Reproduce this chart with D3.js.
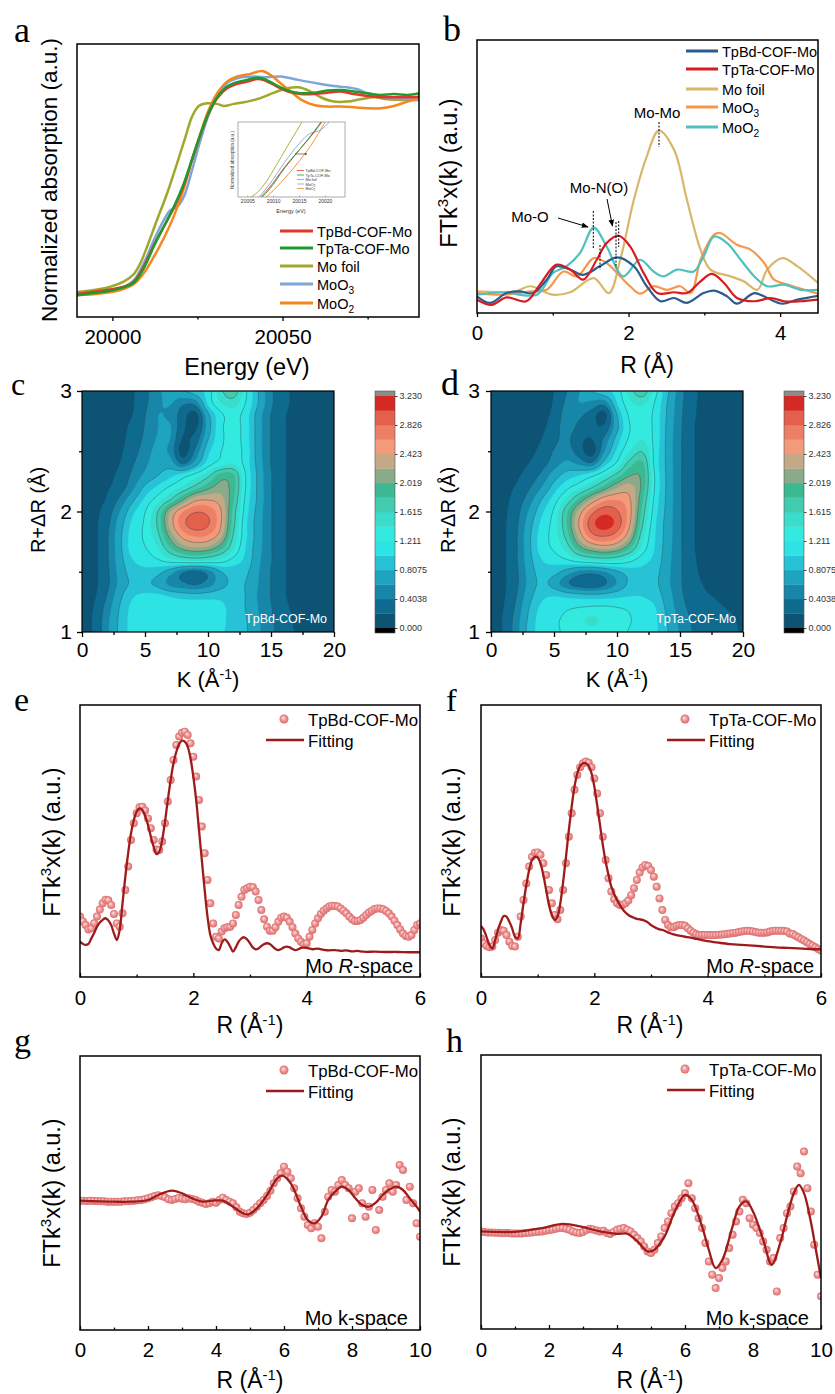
<!DOCTYPE html>
<html><head><meta charset="utf-8">
<script src="https://d3js.org/d3.v7.min.js"></script>
<style>body{margin:0;background:#fff;}svg{display:block;}</style>
</head><body>
<svg id="fig" width="835" height="1394"></svg>
<script>
// ======================= DATA =======================
// ---- panel a : XANES (Energy eV, normalized absorption)
const aTpBd = [[19989.6,-0.005],[19994.5,0.007],[19999.4,0.019],[20003.3,0.033],[20006.3,0.06],[20009.2,0.139],[20012.2,0.253],[20015.1,0.349],[20018.0,0.446],[20021.0,0.568],[20023.4,0.7],[20025.9,0.832],[20028.3,0.946],[20030.8,1.025],[20033.7,1.077],[20036.7,1.1],[20039.6,1.112],[20042.5,1.126],[20044.5,1.121],[20046.5,1.104],[20049.4,1.077],[20052.4,1.056],[20055.3,1.047],[20059.2,1.047],[20063.1,1.054],[20067.1,1.06],[20071.0,1.047],[20074.9,1.037],[20078.8,1.03],[20082.7,1.03],[20086.7,1.03],[20090.1,1.033]];
const aTpTa = [[19989.6,-0.012],[19994.5,0.0],[19999.4,0.012],[20003.3,0.03],[20006.3,0.054],[20009.2,0.13],[20012.2,0.247],[20015.1,0.349],[20018.0,0.451],[20021.0,0.577],[20023.4,0.704],[20025.9,0.837],[20028.3,0.949],[20030.8,1.03],[20033.7,1.086],[20036.7,1.109],[20039.6,1.121],[20042.5,1.133],[20044.5,1.126],[20046.5,1.109],[20049.4,1.082],[20052.4,1.06],[20055.3,1.051],[20059.2,1.054],[20063.1,1.065],[20067.1,1.068],[20071.0,1.06],[20074.9,1.051],[20078.8,1.042],[20082.7,1.047],[20086.7,1.042],[20090.1,1.051]];
const aMoFoil = [[19989.6,0.005],[19994.5,0.016],[19999.4,0.033],[20003.3,0.06],[20006.3,0.10],[20008.2,0.156],[20010.2,0.244],[20013.1,0.384],[20016.1,0.525],[20019.0,0.682],[20021.5,0.823],[20023.4,0.928],[20025.4,0.984],[20027.8,0.998],[20030.8,0.995],[20032.7,0.984],[20035.7,0.995],[20039.6,1.007],[20043.5,1.025],[20047.5,1.054],[20051.4,1.077],[20054.8,1.082],[20058.2,1.06],[20061.2,1.03],[20065.1,1.007],[20069.0,1.007],[20072.9,1.019],[20076.9,1.03],[20080.8,1.019],[20084.7,1.016],[20090.1,1.016]];
const aMoO3 = [[19989.6,-0.002],[19996.5,0.002],[20002.4,0.023],[20006.3,0.068],[20009.2,0.156],[20012.2,0.279],[20015.1,0.384],[20017.1,0.437],[20019.0,0.454],[20021.0,0.507],[20023.4,0.647],[20025.9,0.805],[20028.3,0.937],[20030.8,1.033],[20033.7,1.104],[20036.7,1.13],[20041.6,1.139],[20045.5,1.135],[20049.4,1.139],[20053.3,1.126],[20057.3,1.112],[20061.2,1.1],[20065.1,1.089],[20069.0,1.082],[20072.0,1.072],[20074.9,1.051],[20078.8,1.033],[20082.7,1.025],[20086.7,1.019],[20090.1,1.016]];
const aMoO2 = [[19989.6,-0.011],[19996.5,-0.002],[20002.4,0.016],[20006.3,0.047],[20009.2,0.104],[20012.2,0.191],[20015.1,0.288],[20018.0,0.402],[20021.0,0.551],[20023.4,0.7],[20025.9,0.84],[20028.3,0.963],[20030.8,1.051],[20033.7,1.112],[20036.7,1.139],[20040.6,1.153],[20044.0,1.168],[20046.5,1.147],[20049.4,1.104],[20052.4,1.06],[20055.3,1.019],[20059.2,0.989],[20063.1,0.981],[20067.1,0.981],[20071.0,0.977],[20074.9,0.972],[20078.8,0.972],[20082.7,0.984],[20086.7,1.007],[20090.1,1.025]];
const aNames = ["TpBd-COF-Mo","TpTa-COF-Mo","Mo foil","MoO_3","MoO_2"];
const aColors = ["#E8352C","#1E9B2F","#A0A82C","#7EA6D9","#F5871F"];
const aTicks = [20000,20050], aMinor = [20025,20075];
const insetTicks = [20005,20010,20015,20020];

// ---- panel b : FT-EXAFS R space
const bTpBd = [[0,0.61],[0.17,0.37],[0.39,0.73],[0.56,0.79],[0.74,0.73],[0.92,1.22],[1.05,1.71],[1.23,1.59],[1.4,1.4],[1.62,1.71],[1.85,2.04],[2.07,1.71],[2.24,0.98],[2.42,0.43],[2.6,0.55],[2.77,0.37],[2.99,0.73],[3.13,0.82],[3.3,0.61],[3.43,0.34],[3.66,0.73],[3.83,0.55],[4.03,0.34],[4.23,0.49],[4.5,0.63]];
const bTpTa = [[0,0.49],[0.19,0.3],[0.39,0.57],[0.65,0.43],[0.83,1.04],[1.05,1.77],[1.23,1.59],[1.4,1.22],[1.58,1.95],[1.71,2.56],[1.87,2.83],[2.02,2.44],[2.2,1.46],[2.38,0.73],[2.6,0.76],[2.77,0.73],[2.95,1.16],[3.1,1.43],[3.26,1.1],[3.43,0.55],[3.66,0.43],[3.88,0.55],[4.05,0.43],[4.27,0.43],[4.5,0.49]];
const bMoFoil = [[0,0.79],[0.5,0.79],[0.7,0.98],[1.0,0.67],[1.23,0.76],[1.54,1.28],[1.74,0.73],[1.89,1.95],[2.07,4.15],[2.24,5.73],[2.4,6.68],[2.6,5.98],[2.77,4.15],[2.95,2.32],[3.08,1.59],[3.35,1.34],[3.52,1.16],[3.7,0.85],[3.83,1.59],[4.03,2.01],[4.23,1.71],[4.5,1.1]];
const bMoO3 = [[0,0.73],[0.34,0.67],[0.7,0.79],[0.92,0.85],[1.14,1.52],[1.32,1.34],[1.54,2.01],[1.71,1.83],[1.89,1.34],[2.02,0.98],[2.15,0.71],[2.33,0.98],[2.51,0.85],[2.68,0.98],[2.82,0.73],[2.95,1.95],[3.13,2.87],[3.21,2.93],[3.43,2.5],[3.61,2.32],[3.79,1.83],[3.92,1.22],[4.1,1.04],[4.32,0.85],[4.5,0.71]];
const bMoO2 = [[0,0.67],[0.34,0.76],[0.79,0.67],[1.0,1.46],[1.18,1.71],[1.36,2.2],[1.54,3.13],[1.71,2.44],[1.93,1.34],[2.15,1.95],[2.33,1.52],[2.46,1.34],[2.64,1.59],[2.86,1.52],[2.99,2.07],[3.13,2.8],[3.3,2.56],[3.48,1.95],[3.66,1.34],[3.83,0.98],[4.05,1.04],[4.27,0.85],[4.5,0.85]];
const bNames = ["TpBd-COF-Mo","TpTa-COF-Mo","Mo foil","MoO_3","MoO_2"];
const bColors = ["#2B5D8C","#D81B20","#D8B76A","#F5984A","#4EC0BE"];
const bTicks = [0,2,4], bMinor = [1,3];

// ---- panels c, d : wavelet transform maps (rows R = 3.0 ... 1.0, columns k = 0 ... 20)
const mapK = [0,1,2,3,4,5,6,7,8,9,10,11,12,13,14,15,16,17,18,19,20];
const mapR = [3.0,2.9,2.8,2.7,2.6,2.5,2.4,2.3,2.2,2.1,2.0,1.9,1.8,1.7,1.6,1.5,1.4,1.3,1.2,1.1,1.0];
const cMap = [
[.12,.12,.12,.13,.18,.35,.55,.7,.8,.9,1.1,1.55,1.75,1.25,.8,.45,.25,.17,.16,.16,.16],
[.12,.12,.12,.13,.18,.36,.56,.62,.45,.5,1.05,1.4,1.5,1.2,.8,.45,.25,.17,.16,.16,.16],
[.12,.12,.12,.13,.2,.4,.6,.55,.3,.12,.75,1.15,1.3,1.1,.7,.4,.22,.17,.16,.16,.16],
[.12,.12,.12,.14,.25,.42,.6,.62,.25,.15,.7,1.15,1.3,1.1,.7,.4,.22,.17,.16,.16,.16],
[.12,.12,.12,.15,.28,.45,.62,.6,.18,.3,.8,1.15,1.3,1.1,.7,.4,.22,.17,.16,.16,.16],
[.12,.12,.13,.17,.32,.5,.66,.55,.1,.45,.95,1.2,1.32,1.12,.7,.4,.22,.17,.16,.16,.16],
[.12,.12,.14,.2,.38,.56,.72,.7,.38,.7,1.1,1.3,1.4,1.12,.72,.4,.22,.17,.16,.16,.16],
[.12,.12,.15,.25,.45,.65,.8,.95,1.1,1.3,1.55,1.9,1.85,1.2,.75,.42,.22,.17,.16,.16,.16],
[.12,.13,.18,.3,.55,.85,1.05,1.25,1.45,1.7,1.95,2.1,1.9,1.2,.75,.42,.22,.17,.16,.16,.16],
[.12,.14,.22,.45,.75,1.05,1.3,1.6,2.0,2.35,2.4,2.3,1.85,1.15,.75,.42,.22,.17,.16,.16,.16],
[.12,.15,.3,.6,.95,1.2,1.6,2.2,2.6,2.8,2.75,2.45,1.75,1.1,.72,.42,.22,.17,.16,.16,.16],
[.12,.16,.35,.7,1.05,1.25,1.65,2.3,2.75,2.95,2.85,2.45,1.7,1.05,.7,.42,.22,.17,.16,.16,.16],
[.12,.16,.38,.75,1.1,1.25,1.55,2.1,2.5,2.65,2.6,2.3,1.6,1.05,.7,.42,.22,.17,.16,.16,.16],
[.12,.16,.38,.75,1.1,1.2,1.4,1.8,2.1,2.2,2.15,1.9,1.45,1.0,.68,.42,.22,.17,.16,.16,.16],
[.12,.16,.38,.72,1.0,1.1,1.2,1.35,1.45,1.5,1.45,1.35,1.15,.95,.65,.42,.22,.17,.16,.16,.16],
[.12,.16,.36,.68,.9,.95,.88,.7,.45,.35,.5,.8,.9,.85,.62,.4,.22,.17,.16,.16,.16],
[.12,.16,.36,.66,.85,.85,.75,.55,.45,.38,.5,.72,.85,.8,.6,.4,.22,.17,.16,.16,.16],
[.12,.18,.42,.75,.98,1.05,1.05,.98,.92,.9,.92,.95,.9,.8,.58,.4,.22,.17,.16,.16,.16],
[.12,.22,.5,.82,1.06,1.12,1.15,1.15,1.15,1.15,1.12,1.06,.92,.8,.6,.42,.24,.18,.16,.16,.16],
[.12,.24,.55,.85,1.08,1.15,1.18,1.18,1.18,1.17,1.13,1.06,.93,.82,.62,.44,.26,.18,.16,.16,.16],
[.12,.24,.56,.86,1.08,1.15,1.18,1.18,1.18,1.17,1.12,1.04,.93,.83,.64,.46,.28,.19,.16,.16,.16]];
const dMap = [
[.12,.12,.12,.12,.14,.2,.4,.6,.8,.95,1.1,1.5,1.75,1.3,.85,.5,.25,.17,.16,.16,.16],
[.12,.12,.12,.12,.14,.22,.45,.6,.55,.5,1.0,1.35,1.45,1.2,.8,.48,.24,.17,.16,.16,.16],
[.12,.12,.12,.12,.15,.25,.5,.45,.3,.12,.8,1.25,1.35,1.15,.78,.46,.23,.17,.16,.16,.16],
[.12,.12,.12,.13,.16,.3,.5,.35,.25,.25,.75,1.2,1.35,1.15,.76,.45,.22,.17,.16,.16,.16],
[.12,.12,.12,.14,.2,.35,.45,.25,.2,.45,.9,1.25,1.4,1.15,.75,.44,.22,.17,.16,.16,.16],
[.12,.12,.13,.16,.25,.42,.5,.3,.1,.6,1.05,1.4,1.6,1.15,.75,.44,.22,.17,.16,.16,.16],
[.12,.12,.14,.2,.32,.5,.65,.55,.45,.9,1.25,1.7,1.85,1.15,.75,.44,.22,.17,.16,.16,.16],
[.12,.13,.17,.28,.45,.7,.9,1.0,1.15,1.4,1.7,2.0,1.95,1.2,.76,.44,.22,.17,.16,.16,.16],
[.12,.14,.22,.38,.6,.9,1.15,1.35,1.6,1.9,2.2,2.3,1.95,1.2,.76,.44,.22,.17,.16,.16,.16],
[.12,.15,.28,.5,.8,1.1,1.45,1.85,2.25,2.55,2.6,2.45,1.85,1.15,.75,.44,.22,.17,.16,.16,.16],
[.12,.16,.33,.62,.95,1.25,1.75,2.3,2.75,2.95,2.85,2.5,1.75,1.1,.74,.44,.22,.17,.16,.16,.16],
[.12,.17,.36,.7,1.05,1.3,1.8,2.45,2.95,3.12,2.95,2.45,1.65,1.05,.72,.44,.22,.17,.16,.16,.16],
[.12,.17,.38,.75,1.1,1.3,1.7,2.3,2.75,2.85,2.7,2.25,1.5,1.02,.72,.44,.22,.17,.16,.16,.16],
[.12,.17,.38,.75,1.1,1.25,1.5,1.95,2.2,2.3,2.2,1.85,1.35,1.0,.7,.44,.22,.17,.16,.16,.16],
[.12,.17,.38,.72,1.0,1.1,1.2,1.35,1.45,1.5,1.45,1.3,1.1,.95,.68,.44,.23,.17,.16,.16,.16],
[.12,.17,.36,.68,.9,.88,.72,.55,.5,.6,.78,.9,.95,.88,.66,.44,.24,.18,.16,.16,.16],
[.12,.17,.36,.66,.85,.72,.45,.3,.25,.38,.62,.85,.92,.86,.65,.44,.26,.19,.17,.16,.16],
[.12,.18,.4,.72,.95,1.0,.95,.9,.88,.9,.95,1.0,1.0,.92,.7,.46,.3,.22,.19,.17,.16],
[.12,.2,.45,.8,1.05,1.12,1.18,1.22,1.25,1.25,1.22,1.18,1.12,1.02,.75,.5,.34,.26,.22,.19,.17],
[.12,.22,.5,.85,1.1,1.18,1.25,1.35,1.45,1.35,1.28,1.22,1.15,1.05,.8,.55,.38,.3,.25,.22,.18],
[.12,.22,.52,.88,1.1,1.18,1.24,1.3,1.35,1.32,1.27,1.2,1.14,1.05,.82,.58,.4,.32,.27,.23,.19]];
const mapLevels = [0,0.2019,0.4038,0.6056,0.8075,1.0094,1.211,1.413,1.615,1.817,2.019,2.221,2.423,2.624,2.826,3.028,3.230];
const mapColors = ['#0c5374','#0f6a90','#1786a8','#1fa4c0','#27c2d6','#2ee3e3','#33eadf','#3adccb','#42cbae','#3cb893','#8aab89','#c4a987','#f29a79','#ec7f65','#e3604d','#d42a23','#8c8c8c'];
const cbLabels = ["3.230","2.826","2.423","2.019","1.615","1.211","0.8075","0.4038","0.000"];
const cbValues = [3.230,2.826,2.423,2.019,1.615,1.211,0.8075,0.4038,0.0];
const mapXTicks = [0,5,10,15,20], mapXMinor = [2.5,7.5,12.5,17.5];
const mapYTicks = [1,2,3], mapYMinor = [1.5,2.5];

// ---- panels e, f : R-space fits (data points at R = 0, 0.05, ... 6)
const rStep = 0.05;
const eData = [2.22,2.05,1.91,1.75,1.79,1.98,2.22,2.48,2.71,2.84,2.82,2.65,2.32,1.97,1.85,2.34,3.2,4.06,5.04,5.65,6.02,6.24,6.26,6.12,5.83,5.47,5.04,4.69,4.67,4.98,5.65,6.45,7.24,7.98,8.53,8.84,8.98,9.02,8.9,8.59,8.1,7.37,6.51,5.53,4.55,3.57,2.71,1.97,1.48,1.42,1.67,1.79,1.83,1.85,1.97,2.28,2.65,2.95,3.2,3.26,3.32,3.3,3.14,2.83,2.46,2.12,1.85,1.7,1.7,1.83,2.03,2.18,2.22,2.18,2.03,1.83,1.6,1.42,1.3,1.21,1.24,1.48,1.73,1.97,2.16,2.32,2.44,2.52,2.59,2.62,2.61,2.59,2.52,2.44,2.34,2.22,2.12,2.06,2.06,2.1,2.18,2.28,2.37,2.44,2.5,2.52,2.52,2.49,2.43,2.34,2.22,2.07,1.91,1.75,1.6,1.51,1.48,1.54,1.73,1.91,1.97];
const eFit = [[0,1.3],[0.05,1.22],[0.1,1.18],[0.15,1.22],[0.2,1.42],[0.25,1.62],[0.3,1.85],[0.35,2.0],[0.4,2.1],[0.45,2.16],[0.5,2.08],[0.55,1.91],[0.6,1.6],[0.65,1.36],[0.7,1.73],[0.75,2.71],[0.8,3.69],[0.85,4.55],[0.9,5.28],[0.95,5.77],[1.0,6.08],[1.05,6.2],[1.1,6.14],[1.15,5.92],[1.2,5.59],[1.25,5.16],[1.3,4.79],[1.35,4.52],[1.4,4.61],[1.45,5.04],[1.5,5.71],[1.55,6.51],[1.6,7.24],[1.65,7.86],[1.7,8.28],[1.75,8.57],[1.8,8.69],[1.85,8.65],[1.9,8.47],[1.95,8.04],[2.0,7.37],[2.05,6.51],[2.1,5.4],[2.15,4.3],[2.2,3.2],[2.25,2.22],[2.3,1.54],[2.35,1.24],[2.4,1.05],[2.45,0.99],[2.5,1.24],[2.55,1.38],[2.6,1.3],[2.65,1.12],[2.7,0.93],[2.75,1.09],[2.8,1.3],[2.85,1.42],[2.9,1.46],[2.95,1.38],[3.0,1.24],[3.05,1.09],[3.1,1.02],[3.15,1.05],[3.2,1.14],[3.25,1.21],[3.3,1.24],[3.35,1.21],[3.4,1.12],[3.45,1.03],[3.5,0.99],[3.55,1.03],[3.6,1.09],[3.65,1.12],[3.7,1.09],[3.75,1.03],[3.8,0.99],[3.85,1.02],[3.9,1.07],[3.95,1.08],[4.0,1.07],[4.1,1.02],[4.2,1.04],[4.3,1.0],[4.4,0.98],[4.5,0.99],[4.6,0.96],[4.7,0.98],[4.8,0.94],[4.9,0.96],[5.0,0.93],[5.2,0.93],[5.4,0.92],[5.6,0.92],[5.8,0.91],[6.0,0.91]];
const fData = [1.42,1.24,1.14,1.09,1.12,1.36,1.63,1.73,1.7,1.54,1.3,1.14,1.12,1.48,2.22,2.83,3.44,4.06,4.42,4.57,4.58,4.49,4.18,3.75,3.2,2.71,2.28,2.12,2.46,3.2,4.18,5.16,6.02,6.88,7.43,7.71,7.86,7.92,7.88,7.71,7.3,6.75,6.02,5.16,4.3,3.63,3.14,2.86,2.71,2.65,2.65,2.71,2.81,3.01,3.26,3.57,3.84,4.03,4.12,4.08,3.93,3.69,3.32,2.89,2.46,2.1,1.91,1.83,1.83,1.88,1.91,1.91,1.88,1.79,1.7,1.63,1.57,1.54,1.54,1.54,1.54,1.54,1.54,1.54,1.55,1.56,1.57,1.59,1.6,1.62,1.63,1.65,1.67,1.69,1.7,1.69,1.67,1.65,1.63,1.63,1.63,1.64,1.67,1.69,1.7,1.7,1.7,1.69,1.67,1.6,1.58,1.52,1.46,1.4,1.34,1.28,1.21,1.15,1.09,1.03,0.97];
const fFit = [[0,1.88],[0.05,1.73],[0.1,1.46],[0.15,1.18],[0.2,1.05],[0.25,1.36],[0.3,1.73],[0.35,2.03],[0.4,2.24],[0.45,2.22],[0.5,2.03],[0.55,1.79],[0.6,1.48],[0.65,1.42],[0.7,1.97],[0.75,2.71],[0.8,3.38],[0.85,3.93],[0.9,4.3],[0.95,4.42],[1.0,4.39],[1.05,4.18],[1.1,3.75],[1.15,3.2],[1.2,2.65],[1.25,2.28],[1.3,2.1],[1.35,2.22],[1.4,2.71],[1.45,3.5],[1.5,4.42],[1.55,5.4],[1.6,6.26],[1.65,7.0],[1.7,7.49],[1.75,7.76],[1.8,7.86],[1.85,7.86],[1.9,7.76],[1.95,7.49],[2.0,7.0],[2.05,6.32],[2.1,5.59],[2.15,4.85],[2.2,4.24],[2.25,3.75],[2.3,3.32],[2.35,3.05],[2.4,2.83],[2.45,2.65],[2.5,2.49],[2.55,2.37],[2.6,2.28],[2.65,2.22],[2.7,2.18],[2.75,2.14],[2.8,2.12],[2.85,2.1],[2.9,2.06],[2.95,2.0],[3.0,1.91],[3.05,1.85],[3.1,1.79],[3.15,1.75],[3.2,1.73],[3.25,1.69],[3.3,1.64],[3.35,1.6],[3.4,1.57],[3.45,1.54],[3.5,1.52],[3.6,1.48],[3.7,1.45],[3.8,1.4],[3.9,1.36],[4.0,1.32],[4.2,1.26],[4.4,1.21],[4.6,1.18],[4.8,1.15],[5.0,1.12],[5.2,1.09],[5.4,1.07],[5.6,1.05],[5.8,1.03],[6.0,1.02]];
const rTicks = [0,2,4,6], rMinor = [1,3,5];

// ---- panels g, h : k-space fits (data points at k = 0, 0.1, ... 10)
const kStep = 0.1;
const gData = [-0.02,-0.02,-0.03,-0.02,-0.03,-0.03,-0.04,-0.04,-0.05,-0.05,-0.05,-0.05,-0.05,-0.04,-0.04,-0.03,-0.02,-0.01,0.0,0.02,0.05,0.08,0.12,0.14,0.12,0.08,0.02,0.0,0.03,0.06,0.04,0.02,0.05,0.03,0.0,-0.05,-0.08,-0.12,-0.1,-0.05,-0.08,0.0,0.07,0.0,-0.05,-0.1,-0.22,-0.35,-0.4,-0.42,-0.38,-0.3,-0.2,-0.1,0.0,0.12,0.28,0.5,0.65,0.8,1.0,0.85,0.65,0.35,0.05,-0.25,-0.5,-0.75,-0.85,-0.7,-0.8,-1.15,-0.35,0.1,0.3,0.25,0.45,0.6,0.45,0.35,-0.55,0.25,0.35,-0.1,-0.5,-0.2,0.3,-0.9,-0.3,0.1,0.3,0.5,0.25,0.45,1.05,0.9,0.0,0.4,-0.1,-0.7,-1.1];
const gFit = [[0,-0.02],[1,-0.05],[1.5,-0.05],[2,0.0],[2.3,0.15],[2.7,0.28],[3.0,0.2],[3.3,0.05],[3.6,-0.05],[3.9,-0.02],[4.2,-0.02],[4.5,-0.2],[4.8,-0.4],[4.95,-0.43],[5.2,-0.25],[5.5,0.15],[5.8,0.65],[5.95,0.73],[6.2,0.5],[6.5,-0.2],[6.7,-0.6],[6.9,-0.7],[7.1,-0.5],[7.3,0.0],[7.5,0.25],[7.7,0.4],[7.9,0.3],[8.1,0.05],[8.3,-0.15],[8.5,-0.2],[8.7,-0.08],[8.9,0.15],[9.1,0.32],[9.3,0.4],[9.5,0.3],[9.7,0.05],[9.9,-0.2],[10,-0.35]];
const hData = [0.0,-0.02,-0.03,-0.03,-0.04,-0.04,-0.05,-0.05,-0.05,-0.06,-0.06,-0.06,-0.06,-0.05,-0.04,-0.03,-0.02,-0.01,0.0,0.02,0.04,0.06,0.08,0.1,0.1,0.08,0.05,0.0,-0.03,-0.05,-0.02,0.04,0.08,0.06,0.03,0.0,0.02,-0.05,-0.08,-0.02,0.05,0.08,0.1,0.05,0.0,-0.1,-0.2,-0.3,-0.45,-0.6,-0.65,-0.55,-0.35,-0.15,0.1,0.3,0.55,0.75,0.85,1.0,1.15,1.45,1.0,0.7,0.4,0.1,-0.35,-0.9,-1.3,-1.7,-1.4,-1.1,-0.9,-0.5,-0.1,0.3,0.6,0.95,0.85,0.4,0.2,0.1,-0.05,-0.3,-0.55,-0.9,-0.8,-1.8,-0.2,0.1,0.55,0.75,1.2,1.95,1.75,2.4,1.3,0.6,-0.4,-1.3,-1.95];
const hFit = [[0,0],[1,-0.01],[1.8,0.1],[2.4,0.23],[3.0,0.13],[3.5,0.0],[4.0,-0.07],[4.3,-0.07],[4.6,-0.3],[4.9,-0.6],[5.1,-0.55],[5.4,-0.15],[5.7,0.6],[6.0,1.1],[6.2,0.95],[6.5,0.15],[6.7,-0.55],[6.9,-1.1],[7.1,-0.85],[7.4,0.15],[7.6,0.75],[7.8,0.9],[8.0,0.6],[8.3,-0.25],[8.55,-1.0],[8.8,-0.35],[9.0,0.45],[9.2,1.15],[9.35,1.4],[9.5,1.15],[9.7,0.3],[9.85,-0.55],[10,-1.4]];
const kTicks = [0,2,4,6,8,10], kMinor = [1,3,5,7,9];

// ======================= DRAWING =======================
const FONT = "'Liberation Sans', Arial, Helvetica, sans-serif";
const SERIF = "'Liberation Serif', 'Times New Roman', serif";
const svg = d3.select('#fig').attr('font-family', FONT);
const defs = svg.append('defs');
const grad = defs.append('radialGradient').attr('id','ball').attr('cx','0.5').attr('cy','0.5').attr('r','0.5').attr('fx','0.38').attr('fy','0.35');
grad.append('stop').attr('offset','0%').attr('stop-color','#fde6e6');
grad.append('stop').attr('offset','50%').attr('stop-color','#ef9b9b');
grad.append('stop').attr('offset','100%').attr('stop-color','#dc6a6a');
defs.append('marker').attr('id','arrow').attr('viewBox','0 0 10 10').attr('refX',9).attr('refY',5)
  .attr('markerWidth',7).attr('markerHeight',7).attr('orient','auto')
  .append('path').attr('d','M0,1 L10,5 L0,9 z').attr('fill','#000');

function clip(id,x0,y0,x1,y1){ defs.append('clipPath').attr('id',id).append('rect').attr('x',x0).attr('y',y0).attr('width',x1-x0).attr('height',y1-y0); }
function frame(x0,y0,x1,y1,w){ svg.append('rect').attr('x',x0).attr('y',y0).attr('width',x1-x0).attr('height',y1-y0).attr('fill','none').attr('stroke','#000').attr('stroke-width',w||1.5); }
function label(t,x,y,size){ svg.append('text').attr('x',x).attr('y',y).attr('font-family',SERIF).attr('font-size',size||34).text(t); }
function txt(x,y,s,size,anchor){ return svg.append('text').attr('x',x).attr('y',y).attr('font-size',size).attr('text-anchor',anchor||'middle').text(s); }
function axisBottom(xs,y,majors,minors,fmt,fs,baseline,tick){
  const g = svg.append('g').attr('transform',`translate(0,${y})`);
  g.call(d3.axisBottom(xs).tickValues(majors).tickFormat(fmt).tickSizeInner(tick).tickSizeOuter(0)
     .tickPadding(baseline - y - 0.71*fs - Math.max(tick,0)));
  g.select('.domain').remove();
  g.selectAll('text').attr('font-size',fs).attr('font-family',FONT).attr('fill','#000');
  g.selectAll('line').attr('stroke-width',1.3);
  if(minors && minors.length){
    const g2 = svg.append('g').attr('transform',`translate(0,${y})`);
    g2.call(d3.axisBottom(xs).tickValues(minors).tickFormat('').tickSizeInner(tick*0.6).tickSizeOuter(0));
    g2.select('.domain').remove(); g2.selectAll('line').attr('stroke-width',1.3);
  }
}
function axisLeft(ys,x,majors,minors,fs,rightEdge,tick){
  const g = svg.append('g').attr('transform',`translate(${x},0)`);
  g.call(d3.axisLeft(ys).tickValues(majors).tickFormat(d3.format('d')).tickSizeInner(tick).tickSizeOuter(0).tickPadding(x-rightEdge-tick));
  g.select('.domain').remove();
  g.selectAll('text').attr('font-size',fs).attr('font-family',FONT).attr('fill','#000');
  g.selectAll('line').attr('stroke-width',1.3);
  const g2 = svg.append('g').attr('transform',`translate(${x},0)`);
  g2.call(d3.axisLeft(ys).tickValues(minors).tickFormat('').tickSizeInner(tick*0.6).tickSizeOuter(0));
  g2.select('.domain').remove(); g2.selectAll('line').attr('stroke-width',1.3);
}
function rotText(x,y,s,fs){ return svg.append('text').attr('transform',`translate(${x},${y}) rotate(-90)`).attr('text-anchor','middle').attr('font-size',fs).text(s); }
function ftLabel(x,y){
  const t = svg.append('text').attr('transform',`translate(${x},${y}) rotate(-90)`).attr('text-anchor','middle').attr('font-size',23.5);
  t.append('tspan').text('FTk'); t.append('tspan').attr('dy',-9).attr('font-size',15).text('3'); t.append('tspan').attr('dy',9).text('x(k) (a.u.)');
}
function invALabel(x,y,prefix,fs){
  fs = fs || 22;
  const t = svg.append('text').attr('x',x).attr('y',y).attr('text-anchor','middle').attr('font-size',fs);
  t.append('tspan').text(prefix+' (Å'); t.append('tspan').attr('dy',-8).attr('font-size',fs*0.64).text('-1'); t.append('tspan').attr('dy',8).text(')');
}
function subName(t,name,fs){
  const p = name.split('_');
  t.append('tspan').text(p[0]);
  if(p[1]){ t.append('tspan').attr('dy',fs*0.3).attr('font-size',fs*0.7).text(p[1]); }
}

// ---------------- Panel a ----------------
{
  const x0=77,x1=419,y0=44,y1=317;
  const xs = d3.scaleLinear().domain([19989.6,20090.1]).range([x0,x1]);
  const ys = d3.scaleLinear().domain([-0.126,1.31]).range([y1,y0]);
  clip('clipA',x0,y0,x1,y1);
  const line = d3.line().x(d=>xs(d[0])).y(d=>ys(d[1])).curve(d3.curveCatmullRom);
  const series = [aTpBd,aTpTa,aMoFoil,aMoO3,aMoO2];
  const order = [2,3,4,0,1];
  const gA = svg.append('g').attr('clip-path','url(#clipA)');
  order.forEach(i=>gA.append('path').attr('d',line(series[i])).attr('fill','none').attr('stroke',aColors[i]).attr('stroke-width',2.5));
  frame(x0,y0,x1,y1);
  axisBottom(xs,y1,aTicks,aMinor,d3.format('d'),20.5,344,4);
  txt(247,375,'Energy (eV)',23.5);
  rotText(57,180,'Normalized absorption (a.u.)',22.5);
  const ly=[231,248,266,284,303];
  aNames.forEach((n,i)=>{
    svg.append('line').attr('x1',280).attr('x2',313).attr('y1',ly[i]).attr('y2',ly[i]).attr('stroke',aColors[i]).attr('stroke-width',3);
    const t = svg.append('text').attr('x',317).attr('y',ly[i]+5.5).attr('font-size',14.5); subName(t,n,14.5);
  });
  // inset
  const ix0=238,ix1=345,iy0=122,iy1=197;
  const ixs = d3.scaleLinear().domain([20003.2,20023.9]).range([ix0,ix1]);
  const iys = d3.scaleLinear().domain([0.09,0.5]).range([iy1,iy0]);
  clip('clipInset',ix0,iy0,ix1,iy1);
  const iline = d3.line().x(d=>ixs(d[0])).y(d=>iys(d[1])).curve(d3.curveCatmullRom);
  const gI = svg.append('g').attr('clip-path','url(#clipInset)');
  order.forEach(i=>gI.append('path').attr('d',iline(series[i])).attr('fill','none').attr('stroke',aColors[i]).attr('stroke-width',0.9));
  svg.append('rect').attr('x',ix0).attr('y',iy0).attr('width',ix1-ix0).attr('height',iy1-iy0).attr('fill','none').attr('stroke','#888').attr('stroke-width',0.7);
  const gIx = svg.append('g').attr('transform',`translate(0,${iy1})`);
  gIx.call(d3.axisBottom(ixs).tickValues(insetTicks).tickFormat(d3.format('d')).tickSizeInner(-1.5).tickSizeOuter(0).tickPadding(2.5));
  gIx.select('.domain').remove();
  gIx.selectAll('text').attr('font-size',5).attr('fill','#333');
  gIx.selectAll('line').attr('stroke','#666').attr('stroke-width',0.5);
  txt(291,213,'Energy (eV)',5.5).attr('fill','#333');
  rotText(233.5,160,'Normalized absorption (a.u.)',4.6).attr('fill','#333');
  const ily=[170.5,175,179.5,184,188.5];
  aNames.forEach((n,i)=>{
    svg.append('line').attr('x1',297).attr('x2',304).attr('y1',ily[i]).attr('y2',ily[i]).attr('stroke',aColors[i]).attr('stroke-width',0.8);
    const t = svg.append('text').attr('x',305.5).attr('y',ily[i]+1.5).attr('font-size',3.8).attr('fill','#333'); subName(t,n,3.8);
  });
  svg.append('line').attr('x1',295).attr('x2',307).attr('y1',154).attr('y2',154).attr('stroke','#333').attr('stroke-width',0.6);
  svg.append('path').attr('d','M307,154 l-2,-1 l0,2 z').attr('fill','#333');
  label('a',14,42,36);
}

// ---------------- Panel b ----------------
{
  const x0=477,x1=818,y0=40,y1=313;
  const xs = d3.scaleLinear().domain([0,4.5]).range([x0,x1]);
  const ys = d3.scaleLinear().domain([0,10]).range([y1,y0]);
  clip('clipB',x0,y0,x1,y1);
  const line = d3.line().x(d=>xs(d[0])).y(d=>ys(d[1])).curve(d3.curveCatmullRom);
  const series = [bTpBd,bTpTa,bMoFoil,bMoO3,bMoO2];
  const gB = svg.append('g').attr('clip-path','url(#clipB)');
  [2,3,4,0,1].forEach(i=>gB.append('path').attr('d',line(series[i])).attr('fill','none').attr('stroke',bColors[i]).attr('stroke-width',2.2));
  frame(x0,y0,x1,y1);
  axisBottom(xs,y1,bTicks,bMinor,d3.format('d'),20.5,340,4);
  txt(647,373,'R (Å)',23);
  ftLabel(457,173);
  const ly=[51,69,89,107,127];
  bNames.forEach((n,i)=>{
    svg.append('line').attr('x1',686).attr('x2',718).attr('y1',ly[i]).attr('y2',ly[i]).attr('stroke',bColors[i]).attr('stroke-width',3);
    const t = svg.append('text').attr('x',722).attr('y',ly[i]+5.5).attr('font-size',14.5); subName(t,n,14.5);
  });
  txt(657,118,'Mo-Mo',15);
  txt(599,193,'Mo-N(O)',15);
  txt(530,222,'Mo-O',15);
  const dots = [[659,122,147],[593.3,211,248],[600,245,270],[616,222,268],[618.7,221,247]];
  dots.forEach(d=>svg.append('line').attr('x1',d[0]).attr('x2',d[0]).attr('y1',d[1]).attr('y2',d[2]).attr('stroke','#000').attr('stroke-width',1).attr('stroke-dasharray','2,1.5'));
  svg.append('line').attr('x1',558).attr('y1',218).attr('x2',588).attr('y2',227).attr('stroke','#000').attr('stroke-width',1).attr('marker-end','url(#arrow)');
  svg.append('line').attr('x1',607).attr('y1',199).attr('x2',612.5).attr('y2',226).attr('stroke','#000').attr('stroke-width',1).attr('marker-end','url(#arrow)');
  label('b',443,41,36);
}

// ---------------- Panels c, d ----------------
function cubic(p0,p1,p2,p3,t){ return p1 + 0.5*t*(p2-p0 + t*(2*p0-5*p1+4*p2-p3 + t*(3*(p1-p2)+p3-p0))); }
function sampleGrid(G,fx,fy){
  const nr=G.length, nc=G[0].length, cl=(i,n)=>Math.max(0,Math.min(n-1,i));
  const ix=Math.floor(fx), iy=Math.floor(fy), tx=fx-ix, ty=fy-iy, rows=[];
  for(let m=-1;m<=2;m++){ const r=G[cl(iy+m,nr)]; rows.push(cubic(r[cl(ix-1,nc)],r[cl(ix,nc)],r[cl(ix+1,nc)],r[cl(ix+2,nc)],tx)); }
  return cubic(rows[0],rows[1],rows[2],rows[3],ty);
}
function drawMap(grid,x0,x1,cbx,name,lab,labx,ylabx,tickRight,xlabx){
  const y0=391,y1=632;
  const xs = d3.scaleLinear().domain([0,20]).range([x0,x1]);
  const ys = d3.scaleLinear().domain([1,3]).range([y1,y0]);
  const id='clip'+lab; clip(id,x0,y0,x1,y1);
  const nx=241, ny=201, nr=grid.length, nc=grid[0].length;
  const vals = new Array(nx*ny);
  for(let j=0;j<ny;j++) for(let i=0;i<nx;i++) vals[j*nx+i]=sampleGrid(grid,i/(nx-1)*(nc-1),j/(ny-1)*(nr-1));
  const conts = d3.contours().size([nx,ny]).thresholds(mapLevels)(vals);
  const kMin=mapK[0], kMax=mapK[nc-1], rTop=mapR[0], rBot=mapR[nr-1];
  const proj = d3.geoTransform({point:function(x,y){
    const k = kMin + (x-0.5)/(nx-1)*(kMax-kMin);
    const r = rTop + (y-0.5)/(ny-1)*(rBot-rTop);
    this.stream.point(xs(k), ys(r));
  }});
  const path = d3.geoPath(proj);
  const g = svg.append('g').attr('clip-path',`url(#${id})`);
  g.append('rect').attr('x',x0).attr('y',y0).attr('width',x1-x0).attr('height',y1-y0).attr('fill',mapColors[0]);
  conts.forEach((c,i)=>g.append('path').attr('d',path(c)).attr('fill',mapColors[Math.min(i,mapColors.length-1)]).attr('stroke',mapColors[Math.min(i,mapColors.length-1)]).attr('stroke-width',0.4));
  [2,4,6,8,10,12,14].forEach(i=>g.append('path').attr('d',path(conts[i])).attr('fill','none').attr('stroke','#2a3a40').attr('stroke-opacity',0.55).attr('stroke-width',0.7));
  g.append('text').attr('x',x1-7).attr('y',y1-9).attr('text-anchor','end').attr('font-size',12.5).attr('fill','#fff').text(name);
  frame(x0,y0,x1,y1,1.2);
  axisBottom(xs,y1,mapXTicks,mapXMinor,d3.format('d'),21,657,5);
  axisLeft(ys,x0,mapYTicks,mapYMinor,21,tickRight,5);
  invALabel(xlabx,687,'K',22);
  rotText(ylabx,510,'R+ΔR (Å)',20);
  const cy = d3.scaleLinear().domain([0,3.23]).range([628,396]);
  const cbw=20;
  for(let i=0;i<16;i++){
    svg.append('rect').attr('x',cbx).attr('y',cy(mapLevels[i+1])).attr('width',cbw).attr('height',cy(mapLevels[i])-cy(mapLevels[i+1])+0.3).attr('fill',mapColors[i]);
  }
  svg.append('rect').attr('x',cbx).attr('y',391).attr('width',cbw).attr('height',cy(3.23)-391).attr('fill',mapColors[16]);
  svg.append('rect').attr('x',cbx).attr('y',cy(0)).attr('width',cbw).attr('height',633-cy(0)).attr('fill','#000');
  svg.append('rect').attr('x',cbx).attr('y',391).attr('width',cbw).attr('height',242).attr('fill','none').attr('stroke','#555').attr('stroke-width',0.6);
  const gc = svg.append('g').attr('transform',`translate(${cbx+cbw},0)`);
  gc.call(d3.axisRight(cy).tickValues(cbValues).tickFormat((d,i)=>cbLabels[i]).tickSizeInner(2.5).tickSizeOuter(0).tickPadding(2));
  gc.select('.domain').remove();
  gc.selectAll('text').attr('font-size',9).attr('font-family',FONT).attr('fill','#333');
  gc.selectAll('line').attr('stroke','#444');
  label(lab,labx,395,lab==='c'?32:36);
}
drawMap(cMap,82,334,375,'TpBd-COF-Mo','c',11,45,72,208);
drawMap(dMap,491,743,784,'TpTa-COF-Mo','d',441,455,480,617);

// ---------------- Panels e, f, g, h ----------------
function drawFit(x0,x1,y0,y1,dom,data,step,fit,name,lab,ticks,minor,tickBase,titleBase,titleX,ylabX,ylabY,noteText,noteX,noteY,italicR,labY,labX){
  const xs = d3.scaleLinear().domain([dom[0],dom[1]]).range([x0,x1]);
  const ys = d3.scaleLinear().domain([dom[2],dom[3]]).range([y1,y0]);
  const id='clip'+lab; clip(id,x0,y0,x1,y1);
  const g = svg.append('g').attr('clip-path',`url(#${id})`);
  g.selectAll('circle').data(data).enter().append('circle')
    .attr('cx',(d,i)=>xs(i*step)).attr('cy',d=>ys(d)).attr('r',4).attr('fill','url(#ball)');
  const line = d3.line().x(d=>xs(d[0])).y(d=>ys(d[1])).curve(d3.curveCatmullRom);
  g.append('path').attr('d',line(fit)).attr('fill','none').attr('stroke','#9E1B1B').attr('stroke-width',2.3);
  frame(x0,y0,x1,y1);
  axisBottom(xs,y1,ticks,minor,d3.format('d'),20.5,tickBase,-4);
  invALabel(titleX,titleBase,'R',23);
  ftLabel(ylabX,ylabY);
  const lx = x1-154, ly = y0+14;
  svg.append('circle').attr('cx',lx+18).attr('cy',ly).attr('r',4.5).attr('fill','url(#ball)');
  svg.append('text').attr('x',lx+42).attr('y',ly+6.5).attr('font-size',16.8).text(name);
  svg.append('line').attr('x1',lx).attr('x2',lx+38).attr('y1',ly+21).attr('y2',ly+21).attr('stroke','#9E1B1B').attr('stroke-width',2.5);
  svg.append('text').attr('x',lx+42).attr('y',ly+27.5).attr('font-size',16.8).text('Fitting');
  const t = svg.append('text').attr('x',noteX).attr('y',noteY).attr('text-anchor','end').attr('font-size',20);
  if(italicR){ t.append('tspan').text('Mo '); t.append('tspan').attr('font-style','italic').text('R'); t.append('tspan').text('-space'); }
  else t.text(noteText);
  label(lab,labX,labY,lab==='f'?32:34);
}
drawFit(80,420,705,977,[0,6,0,10],eData,rStep,eFit,'TpBd-COF-Mo','e',rTicks,rMinor,1005,1033,250,60,842,'',413,973,true,711,14);
drawFit(481,821,705,977,[0,6,0,10],fData,rStep,fFit,'TpTa-COF-Mo','f',rTicks,rMinor,1005,1033,650,460,842,'',814,973,true,711,446);
drawFit(80,420,1056,1330,[0,10,-3.9,4.32],gData,kStep,gFit,'TpBd-COF-Mo','g',kTicks,kMinor,1357,1388,250,60,1193,'Mo k-space',408,1325,false,1052,14);
drawFit(481,821,1055,1329,[0,10,-2.93,5.3],hData,kStep,hFit,'TpTa-COF-Mo','h',kTicks,kMinor,1357,1388,650,460,1192,'Mo k-space',809,1325,false,1052,446);
</script>
</body></html>
